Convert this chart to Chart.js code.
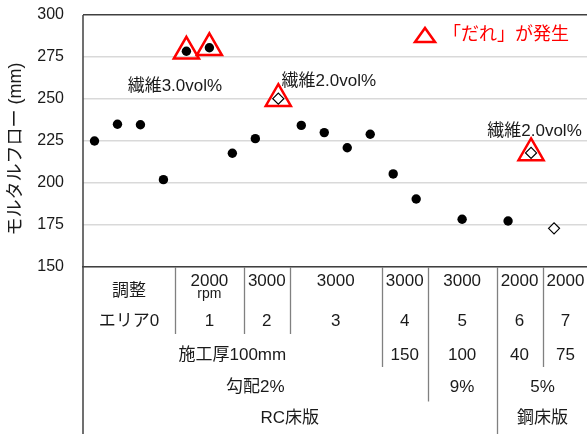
<!DOCTYPE html>
<html>
<head>
<meta charset="utf-8">
<script src="https://cdn.jsdelivr.net/npm/chart.js@4"></script>
<style>
body { margin: 0; overflow: hidden; background: #fff; }
#wrap { width: 587px; height: 434px; overflow: hidden; }
</style>
</head>
<body>
<div id="wrap"><canvas id="chartjs-0" width="590" height="434"></canvas></div>
<script>
// 22 slots along the x axis (some empty)
var categories = ["0","1","2","3","4","5","6","7","8","9","10","11","12","13","14","15","16","17","18","19","20","21"];

// mortar flow (mm)
var flowPlain = [225, 235, 234.7, 202, 278.4, 280.5, 217.7, 226.4, null, 234.3, 230, 221, 229, 205.4, 190.5, null, 178.4, null, 177.4, null, null, null];
var flowFiber = [null, null, null, null, null, null, null, null, 250.2, null, null, null, null, null, null, null, null, null, null, 217.9, 173, null];
var flowSag   = [null, null, null, null, 278.4, 280.5, null, null, 250.2, null, null, null, null, null, null, null, null, null, null, 217.9, null, null];

var yTicks = [150, 175, 200, 225, 250, 275, 300];

// notes on the plot
var noteText = ["繊維3.0vol%", "繊維2.0vol%", "繊維2.0vol%"];
var noteX = [3.5, 10.2, 19.15];
var noteY = [257.3, 260.7, 230.5];

// table below the plot
var rpmLabels  = ["調整", "2000", "3000", "3000", "3000", "3000", "2000", "2000"];
var areaLabels = ["エリア0", "1", "2", "3", "4", "5", "6", "7"];
var groupStart = [0, 4, 7, 9, 13, 15, 18, 20];
var groupEnd   = [3, 6, 8, 12, 14, 17, 19, 21];

var thickLabels = ["施工厚100mm", "150", "100", "40", "75"];
var thickStart  = [0, 13, 15, 18, 20];
var thickEnd    = [12, 14, 17, 19, 21];

var slopeLabels = ["勾配2%", "9%", "5%"];
var slopeStart  = [0, 15, 18];
var slopeEnd    = [14, 17, 21];

var deckLabels = ["RC床版", "鋼床版"];
var deckStart  = [0, 18];
var deckEnd    = [17, 21];

var FONT = '"Liberation Sans", "Noto Sans CJK JP", sans-serif';

var tablePlugin = {
    id: "tablePlugin",
    afterDraw: function(chart) {
        var ctx = chart.ctx;
        var xs = chart.scales.x;
        var ys = chart.scales.y;
        var area = chart.chartArea;
        var H = chart.height;

        function mid(a, b) {
            return (xs.getPixelForValue(a - 0.5) + xs.getPixelForValue(b + 0.5)) / 2;
        }

        ctx.save();

        // left axis continues down through the table
        ctx.strokeStyle = "#404040";
        ctx.lineWidth = 1.5;
        ctx.beginPath();
        ctx.moveTo(area.left, area.top);
        ctx.lineTo(area.left, H);
        ctx.stroke();

        // separators
        var levels = [groupStart, thickStart, slopeStart, deckStart];
        var bottoms = [334, 367, 401.5, H];
        ctx.strokeStyle = "#808080";
        ctx.lineWidth = 1.3;
        for (var b = 1; b < categories.length; b++) {
            var bottom = null;
            for (var k = 0; k < levels.length; k++) {
                if (levels[k].indexOf(b) >= 0) { bottom = bottoms[k]; }
            }
            if (bottom !== null) {
                var px = Math.round(xs.getPixelForValue(b - 0.5)) + 0.5;
                ctx.beginPath();
                ctx.moveTo(px, area.bottom);
                ctx.lineTo(px, bottom);
                ctx.stroke();
            }
        }

        ctx.fillStyle = "#1a1a1a";
        ctx.textAlign = "center";
        ctx.textBaseline = "middle";
        ctx.font = "17px " + FONT;
        for (var i = 0; i < rpmLabels.length; i++) {
            var cx = mid(groupStart[i], groupEnd[i]);
            if (i === 0) {
                ctx.fillText(rpmLabels[i], cx, 291.5);
            } else {
                ctx.fillText(rpmLabels[i], cx, 281.5);
            }
            ctx.fillText(areaLabels[i], cx, 321);
        }
        ctx.font = "14px " + FONT;
        ctx.fillText("rpm", mid(groupStart[1], groupEnd[1]), 294);

        ctx.font = "17px " + FONT;
        for (i = 0; i < thickLabels.length; i++) {
            ctx.fillText(thickLabels[i], mid(thickStart[i], thickEnd[i]), 355);
        }
        for (i = 0; i < slopeLabels.length; i++) {
            ctx.fillText(slopeLabels[i], mid(slopeStart[i], slopeEnd[i]), 387.5);
        }
        for (i = 0; i < deckLabels.length; i++) {
            ctx.fillText(deckLabels[i], mid(deckStart[i], deckEnd[i]), 418);
        }

        // notes
        for (i = 0; i < noteText.length; i++) {
            ctx.fillText(noteText[i], xs.getPixelForValue(noteX[i]), ys.getPixelForValue(noteY[i]));
        }

        // y title
        ctx.save();
        ctx.translate(16, 149);
        ctx.rotate(-Math.PI / 2);
        ctx.font = "18px " + FONT;
        ctx.fillText("モルタルフロー (mm)", 0, 0);
        ctx.restore();

        // legend
        ctx.strokeStyle = "#ff0000";
        ctx.lineWidth = 2.5;
        ctx.beginPath();
        ctx.moveTo(415, 42);
        ctx.lineTo(435, 42);
        ctx.lineTo(425, 28);
        ctx.closePath();
        ctx.stroke();
        ctx.fillStyle = "#ff0000";
        ctx.textAlign = "left";
        ctx.font = "18px " + FONT;
        ctx.fillText("「だれ」が発生", 443, 35);

        ctx.restore();
    }
};

var ctx0 = document.getElementById("chartjs-0");
var myChart = new Chart(ctx0, {
    type: "line",
    data: {
        labels: categories,
        datasets: [
            {
                label: "dots",
                data: flowPlain,
                showLine: false,
                pointStyle: "circle",
                pointRadius: 4.7,
                pointBackgroundColor: "#000",
                pointBorderColor: "#000",
                pointBorderWidth: 0
            },
            {
                label: "fiber",
                data: flowFiber,
                showLine: false,
                pointStyle: "rectRot",
                pointRadius: 5.5,
                pointBackgroundColor: "#fff",
                pointBorderColor: "#000",
                pointBorderWidth: 1.2
            },
            {
                label: "sag",
                data: flowSag,
                showLine: false,
                pointStyle: "triangle",
                pointRadius: 14.5,
                pointBackgroundColor: "rgba(0,0,0,0)",
                pointBorderColor: "#ff0000",
                pointBorderWidth: 2.5
            }
        ]
    },
    options: {
        responsive: false,
        animation: false,
        layout: { autoPadding: false, padding: { left: 0, top: 15, right: 1.5, bottom: 167 } },
        plugins: { legend: { display: false }, tooltip: { enabled: false } },
        scales: {
            x: {
                offset: true,
                grid: { display: false },
                ticks: { display: false },
                border: { display: true, color: "#404040", width: 1.5 },
                afterFit: function(s) { s.height = 0; }
            },
            y: {
                min: 150,
                max: 300,
                afterBuildTicks: function(s) {
                    s.ticks = yTicks.map(function(v) { return { value: v }; });
                },
                grid: {
                    drawTicks: false,
                    color: function(c) { return c.tick && c.tick.value === 300 ? "#404040" : "#d9d9d9"; },
                    lineWidth: 1.5
                },
                border: { display: false },
                ticks: {
                    padding: 19,
                    color: "#1a1a1a",
                    font: { family: FONT, size: 16 }
                },
                afterFit: function(s) {
                    s.width = 83;
                    s.paddingTop = 10;
                    s.paddingBottom = 10;
                }
            }
        }
    },
    plugins: [tablePlugin]
});
</script>
</body>
</html>
